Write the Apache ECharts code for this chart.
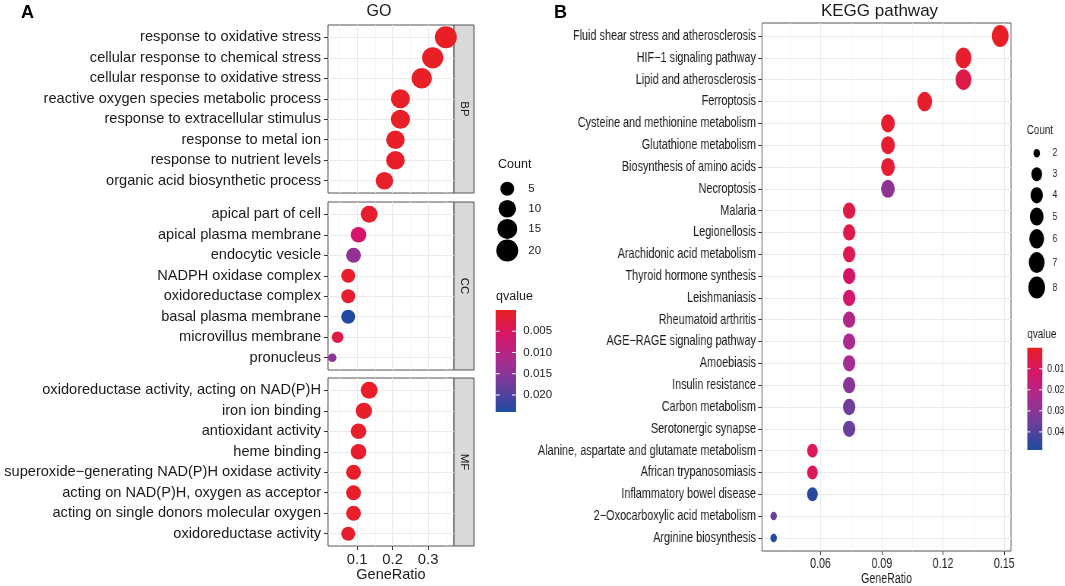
<!DOCTYPE html>
<html><head><meta charset="utf-8">
<script src="https://cdn.jsdelivr.net/npm/echarts@6.0.0/dist/echarts.min.js"></script>
<style>
html,body{margin:0;padding:0;background:#fff;overflow:hidden;}
#main{position:absolute;left:0;top:0;width:1065px;height:586px;}
#kegg{position:absolute;left:520px;top:0;width:718px;height:586px;transform:scaleX(0.76);transform-origin:0 0;}
</style></head><body>
<div id="main"></div><div id="kegg"></div>
<script>
// ---------------- DATA ----------------
const bpTerms = ["response to oxidative stress","cellular response to chemical stress","cellular response to oxidative stress","reactive oxygen species metabolic process","response to extracellular stimulus","response to metal ion","response to nutrient levels","organic acid biosynthetic process"];
const bpRatio = [0.350,0.313,0.282,0.222,0.222,0.208,0.208,0.177];
const bpCount = [20,18,16,13,13,12,12,10];
const bpQ     = [0.0002,0.0002,0.0002,0.0003,0.0003,0.0003,0.0004,0.0005];

const ccTerms = ["apical part of cell","apical plasma membrane","endocytic vesicle","NADPH oxidase complex","oxidoreductase complex","basal plasma membrane","microvillus membrane","pronucleus"];
const ccRatio = [0.134,0.104,0.090,0.075,0.075,0.075,0.045,0.030];
const ccCount = [9,7,6,5,5,5,3,2];
const ccQ     = [0.0008,0.0060,0.0140,0.0006,0.0010,0.0240,0.0028,0.0145];

const mfTerms = ["oxidoreductase activity, acting on NAD(P)H","iron ion binding","antioxidant activity","heme binding","superoxide\u2212generating NAD(P)H oxidase activity","acting on NAD(P)H, oxygen as acceptor","acting on single donors molecular oxygen","oxidoreductase activity"];
const mfRatio = [0.134,0.119,0.104,0.104,0.090,0.090,0.090,0.075];
const mfCount = [9,8,7,7,6,6,6,5];
const mfQ     = [0.0004,0.0006,0.0006,0.0008,0.0004,0.0005,0.0006,0.0008];

const goTicks = [0.1,0.2,0.3];
const goQTicks = [0.005,0.010,0.015,0.020];
const goCountTicks = [5,10,15,20];

const keggTerms = ["Fluid shear stress and atherosclerosis","HIF\u22121 signaling pathway","Lipid and atherosclerosis","Ferroptosis","Cysteine and methionine metabolism","Glutathione metabolism","Biosynthesis of amino acids","Necroptosis","Malaria","Legionellosis","Arachidonic acid metabolism","Thyroid hormone synthesis","Leishmaniasis","Rheumatoid arthritis","AGE\u2212RAGE signaling pathway","Amoebiasis","Insulin resistance","Carbon metabolism","Serotonergic synapse","Alanine, aspartate and glutamate metabolism","African trypanosomiasis","Inflammatory bowel disease","2\u2212Oxocarboxylic acid metabolism","Arginine biosynthesis"];
const keggRatio = [0.148,0.130,0.130,0.111,0.093,0.093,0.093,0.093,0.074,0.074,0.074,0.074,0.074,0.074,0.074,0.074,0.074,0.074,0.074,0.056,0.056,0.056,0.037,0.037];
const keggCount = [8,7,7,6,5,5,5,5,4,4,4,4,4,4,4,4,4,4,4,3,3,3,2,2];
const keggQ     = [0.0002,0.0015,0.0065,0.0010,0.0020,0.0022,0.0030,0.0290,0.0060,0.0066,0.0075,0.0120,0.0130,0.0210,0.0240,0.0250,0.0310,0.0350,0.0360,0.0090,0.0095,0.0470,0.0360,0.0486];

const keggTicks = [0.06,0.09,0.12,0.15];
const keggQTicks = [0.01,0.02,0.03,0.04];
const keggCountTicks = [2,3,4,5,6,7,8];

// ---------------- STYLE ----------------
const FONT = "'Liberation Sans', Arial, Helvetica, sans-serif";
const qColors = ['#EA1F24','#D6156A','#A82C90','#683F9C','#1F4BA0'];
const TXT = '#1A1A1A';
const GRIDC = '#EBEBEB';
const BORDER = '#555555';

function sizeOf(c, lo, hi){ return 8.5 + 13.5*Math.sqrt((c-lo)/(hi-lo)); }
function gradient(){
  return new echarts.graphic.LinearGradient(0,0,0,1, qColors.map((c,i)=>({offset:i/(qColors.length-1), color:c})));
}

// ---------------- GO CHART ----------------
const goSets = [
  {terms:bpTerms, ratio:bpRatio, count:bpCount, q:bpQ, strip:'BP'},
  {terms:ccTerms, ratio:ccRatio, count:ccCount, q:ccQ, strip:'CC'},
  {terms:mfTerms, ratio:mfRatio, count:mfCount, q:mfQ, strip:'MF'}
];
const panelTops = [25, 202, 378];
const PH = 168, PL = 328, PW = 126;
const goAllCount = bpCount.concat(ccCount, mfCount);
const goCmin = Math.min(...goAllCount), goCmax = Math.max(...goAllCount);
const goAllQ = bpQ.concat(ccQ, mfQ);
const goQmin = 0, goQmax = Math.max(...goAllQ);

const grids=[], xAxes=[], yAxes=[], series=[], graphics=[];
goSets.forEach((s,i)=>{
  const n = s.terms.length;
  const idx = s.terms.map((_,j)=>j+1);
  const last = i===2;
  grids.push({left:PL, top:panelTops[i], width:PW, height:PH, show:true, borderColor:BORDER, borderWidth:1, backgroundColor:'#fff', containLabel:false, outerBoundsMode:'none'});
  xAxes.push({gridIndex:i, type:'value', min:0.018, max:0.373, splitNumber:4,
    axisLine:{show:false},
    axisTick:{show:last, length:4, customValues:goTicks, lineStyle:{color:'#333'}},
    axisLabel:{show:last, customValues:goTicks, formatter:v=>v.toFixed(1), color:'#222', fontSize:14.8, fontFamily:FONT, margin:6},
    splitLine:{show:true, lineStyle:{color:GRIDC, width:1}},
    minorTick:{show:false, splitNumber:2},
    minorSplitLine:{show:true, lineStyle:{color:'#F3F3F3', width:0.8}},
    name:last?'GeneRatio':'', nameLocation:'middle', nameGap:21,
    nameTextStyle:{color:TXT, fontSize:14.5, fontFamily:FONT}
  });
  yAxes.push({gridIndex:i, type:'value', inverse:true, min:0.4, max:n+0.6, splitNumber:n,
    axisLine:{show:false},
    axisTick:{show:true, length:4, customValues:idx, lineStyle:{color:'#333'}},
    axisLabel:{customValues:idx, formatter:v=>s.terms[Math.round(v)-1]||'', color:TXT, fontSize:14.6, fontFamily:FONT, margin:7},
    splitLine:{show:true, lineStyle:{color:GRIDC, width:1}}
  });
  series.push({type:'scatter', xAxisIndex:i, yAxisIndex:i, clip:true,
    data:s.terms.map((t,j)=>[s.ratio[j], j+1, s.count[j], s.q[j], t]),
    symbolSize:v=>sizeOf(v[2], goCmin, goCmax),
    itemStyle:{opacity:1},
    emphasis:{disabled:true}
  });
  // strip
  graphics.push({type:'rect', shape:{x:PL+PW, y:panelTops[i], width:20, height:PH}, style:{fill:'#D9D9D9', stroke:BORDER, lineWidth:1}});
  graphics.push({type:'text', x:PL+PW+10, y:panelTops[i]+PH/2, rotation:-Math.PI/2,
    style:{text:s.strip, fill:TXT, fontSize:11.5, fontFamily:FONT, align:'center', verticalAlign:'middle'}});
});

// titles and panel letters
graphics.push({type:'text', x:21, y:13, style:{text:'A', fill:'#000', fontSize:18, fontWeight:'bold', fontFamily:FONT, align:'left', verticalAlign:'middle'}});
graphics.push({type:'text', x:554, y:13, style:{text:'B', fill:'#000', fontSize:18, fontWeight:'bold', fontFamily:FONT, align:'left', verticalAlign:'middle'}});
graphics.push({type:'text', x:379, y:12, style:{text:'GO', fill:TXT, fontSize:16, fontFamily:FONT, align:'center', verticalAlign:'middle'}});
graphics.push({type:'text', x:879.5, y:11, style:{text:'KEGG pathway', fill:TXT, fontSize:17, fontFamily:FONT, align:'center', verticalAlign:'middle'}});

// GO size legend
graphics.push({type:'text', x:498, y:165, style:{text:'Count', fill:TXT, fontSize:12.5, fontFamily:FONT, align:'left', verticalAlign:'middle'}});
(function(){
  let y = 188.7, prevH = null;
  goCountTicks.forEach(c=>{
    const d = sizeOf(c, goCmin, goCmax);
    const h = Math.max(20, d+0.5);
    if(prevH!==null) y += (prevH+h)/2;
    prevH = h;
    graphics.push({type:'circle', shape:{cx:507.3, cy:y, r:d/2}, style:{fill:'#000'}});
    graphics.push({type:'text', x:528.3, y:y, style:{text:String(c), fill:TXT, fontSize:11.5, fontFamily:FONT, align:'left', verticalAlign:'middle'}});
  });
})();
// GO colour legend
(function(){
  const bx=495.7, by=310, bw=20.3, bh=102;
  graphics.push({type:'text', x:496, y:303, style:{text:'qvalue', fill:TXT, fontSize:12.5, fontFamily:FONT, align:'left', verticalAlign:'bottom'}});
  graphics.push({type:'rect', shape:{x:bx, y:by, width:bw, height:bh}, style:{fill:gradient()}});
  goQTicks.forEach(t=>{
    const yy = by + bh*(t-goQmin)/(goQmax-goQmin);
    graphics.push({type:'line', shape:{x1:bx, y1:yy, x2:bx+4, y2:yy}, style:{stroke:'#fff', lineWidth:1}});
    graphics.push({type:'line', shape:{x1:bx+bw-4, y1:yy, x2:bx+bw, y2:yy}, style:{stroke:'#fff', lineWidth:1}});
    graphics.push({type:'text', x:523.3, y:yy, style:{text:t.toFixed(3), fill:TXT, fontSize:11.5, fontFamily:FONT, align:'left', verticalAlign:'middle'}});
  });
})();

const goChart = echarts.init(document.getElementById('main'), null, {renderer:'canvas'});
goChart.setOption({
  backgroundColor:'#fff', animation:false,
  textStyle:{fontFamily:FONT},
  grid:grids, xAxis:xAxes, yAxis:yAxes, series:series,
  visualMap:{type:'continuous', show:false, min:goQmin, max:goQmax, dimension:3, seriesIndex:[0,1,2], inRange:{color:qColors}},
  graphic:graphics
});

// ---------------- KEGG CHART (drawn wide, squeezed horizontally by CSS) ----------------
const S = 0.76, OFF = 520;
const ix = x => (x-OFF)/S;
const kL = ix(762), kR = ix(1011), kTop = 23, kH = 528;
const kN = keggTerms.length;
const kIdx = keggTerms.map((_,j)=>j+1);
const kCmin = Math.min(...keggCount), kCmax = Math.max(...keggCount);
const kQmin = 0, kQmax = Math.max(...keggQ);
const kg = [];
kg.push({type:'text', x:(kL+kR)/2, y:579, style:{text:'GeneRatio', fill:TXT, fontSize:14, fontFamily:FONT, align:'center', verticalAlign:'middle'}});
kg.push({type:'text', x:ix(1026.7), y:130, style:{text:'Count', fill:TXT, fontSize:13, fontFamily:FONT, align:'left', verticalAlign:'middle'}});
(function(){
  let y = 153.3, prevH = null;
  keggCountTicks.forEach(c=>{
    const d = sizeOf(c, kCmin, kCmax);
    const h = Math.max(21, d+3.5);
    if(prevH!==null) y += (prevH+h)/2;
    prevH = h;
    kg.push({type:'circle', shape:{cx:ix(1036.7), cy:y, r:d/2}, style:{fill:'#000'}});
    kg.push({type:'text', x:ix(1052.3), y:y, style:{text:String(c), fill:TXT, fontSize:11.5, fontFamily:FONT, align:'left', verticalAlign:'middle'}});
  });
})();
(function(){
  const bx=ix(1027.3), by=347.7, bw=19.7, bh=102.3;
  kg.push({type:'text', x:bx, y:341, style:{text:'qvalue', fill:TXT, fontSize:13, fontFamily:FONT, align:'left', verticalAlign:'bottom'}});
  kg.push({type:'rect', shape:{x:bx, y:by, width:bw, height:bh}, style:{fill:gradient()}});
  keggQTicks.forEach(t=>{
    const yy = by + bh*(t-kQmin)/(kQmax-kQmin);
    kg.push({type:'line', shape:{x1:bx, y1:yy, x2:bx+4, y2:yy}, style:{stroke:'#fff', lineWidth:1}});
    kg.push({type:'line', shape:{x1:bx+bw-4, y1:yy, x2:bx+bw, y2:yy}, style:{stroke:'#fff', lineWidth:1}});
    kg.push({type:'text', x:ix(1047.3), y:yy, style:{text:t.toFixed(2), fill:TXT, fontSize:11.5, fontFamily:FONT, align:'left', verticalAlign:'middle'}});
  });
})();

const keggChart = echarts.init(document.getElementById('kegg'), null, {renderer:'canvas'});
keggChart.setOption({
  animation:false, backgroundColor:'transparent', textStyle:{fontFamily:FONT},
  grid:{left:kL, top:kTop, width:kR-kL, height:kH, show:true, borderColor:BORDER, borderWidth:1, backgroundColor:'#fff', containLabel:false, outerBoundsMode:'none'},
  xAxis:{type:'value', min:0.0313, max:0.1533, splitNumber:4,
    axisLine:{show:false},
    axisTick:{show:true, length:4, customValues:keggTicks, lineStyle:{color:'#333'}},
    axisLabel:{customValues:keggTicks, formatter:v=>v.toFixed(2), color:'#222', fontSize:14, fontFamily:FONT, margin:6},
    splitLine:{show:true, lineStyle:{color:GRIDC, width:1}},
    minorTick:{show:false, splitNumber:2},
    minorSplitLine:{show:true, lineStyle:{color:'#F3F3F3', width:0.8}}
  },
  yAxis:{type:'value', inverse:true, min:0.4, max:kN+0.6, splitNumber:kN,
    axisLine:{show:false},
    axisTick:{show:true, length:5, customValues:kIdx, lineStyle:{color:'#333'}},
    axisLabel:{customValues:kIdx, formatter:v=>keggTerms[Math.round(v)-1]||'', color:TXT, fontSize:14.3, fontFamily:FONT, margin:8},
    splitLine:{show:true, lineStyle:{color:GRIDC, width:1}}
  },
  series:[{type:'scatter', clip:true,
    data:keggTerms.map((t,j)=>[keggRatio[j], j+1, keggCount[j], keggQ[j], t]),
    symbolSize:v=>sizeOf(v[2], kCmin, kCmax),
    itemStyle:{opacity:1},
    emphasis:{disabled:true}
  }],
  visualMap:{type:'continuous', show:false, min:kQmin, max:kQmax, dimension:3, seriesIndex:0, inRange:{color:qColors}},
  graphic:kg
});
</script>
</body></html>
